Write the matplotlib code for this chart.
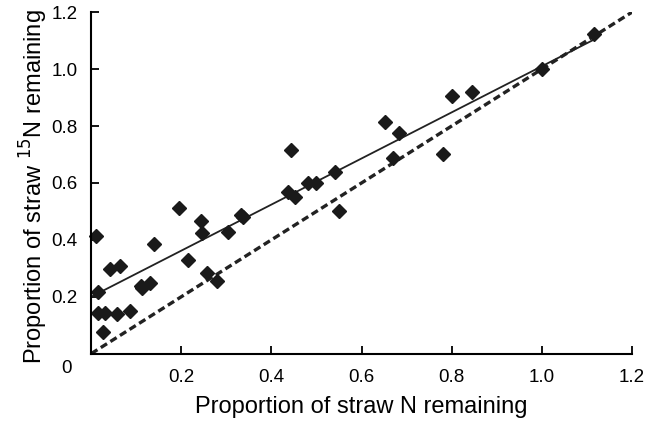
import numpy as np
import matplotlib
matplotlib.use("Agg")
import matplotlib.pyplot as plt

plt.rcParams['font.family'] = ['Liberation Sans', 'DejaVu Sans']

# proportion of straw N remaining (x) vs straw 15N remaining (y)
straw_n = [0.010, 0.014, 0.014, 0.030, 0.058, 0.087, 0.027, 0.042, 0.063,
           0.110, 0.112, 0.131, 0.140, 0.194, 0.214, 0.243, 0.246, 0.257,
           0.279, 0.303, 0.333, 0.336, 0.436, 0.453, 0.443, 0.481, 0.499,
           0.541, 0.549, 0.652, 0.683, 0.670, 0.781, 0.800, 0.845, 1.000,
           1.116]
straw_15n = [0.415, 0.215, 0.144, 0.144, 0.140, 0.150, 0.077, 0.296, 0.309,
             0.239, 0.230, 0.249, 0.386, 0.511, 0.329, 0.467, 0.423, 0.282,
             0.255, 0.429, 0.488, 0.480, 0.568, 0.552, 0.717, 0.599, 0.599,
             0.640, 0.503, 0.815, 0.776, 0.688, 0.703, 0.907, 0.921, 1.000,
             1.125]

fit_intercept = 0.20
fit_slope = 0.81
one_to_one = [0.0, 1.2]
tick_vals = [0.2, 0.4, 0.6, 0.8, 1.0, 1.2]
tick_labels = ['0.2', '0.4', '0.6', '0.8', '1.0', '1.2']

x = np.array(straw_n)
y = np.array(straw_15n)

fig = plt.figure(figsize=(6.61, 4.21), dpi=100)
ax = fig.add_axes([0.138, 0.160, 0.818, 0.811])

ax.plot(one_to_one, one_to_one, color='#222222', linestyle=(0, (2.2, 1.2)), linewidth=2.4)
fx = np.array([0.0, x.max()])
ax.plot(fx, fit_intercept + fit_slope * fx, color='#222222', linewidth=1.3)
ax.plot(x, y, linestyle='none', marker='D', markersize=7.5, color='#1a1a1a', clip_on=False)

ax.set_xlim(0, 1.2)
ax.set_ylim(0, 1.2)
ax.set_xticks(tick_vals)
ax.set_xticklabels(tick_labels)
ax.set_yticks(tick_vals)
ax.set_yticklabels(tick_labels)
ax.tick_params(direction='in', length=6, width=1.3, labelsize=13.5)
ax.tick_params(axis='x', pad=11)
ax.tick_params(axis='y', pad=10)
ax.annotate('0', xy=(0, 0), xytext=(-14, -11), textcoords='offset points',
            ha='right', va='center', fontsize=13.5)

for s in ['top', 'right']:
    ax.spines[s].set_visible(False)
for s in ['left', 'bottom']:
    ax.spines[s].set_linewidth(1.5)

ax.set_xlabel('Proportion of straw N remaining', fontsize=17, labelpad=7)
ax.set_ylabel('Proportion of straw $^{15}$N remaining', fontsize=17, labelpad=1, y=0.49)

fig.savefig('out.png', dpi=100)
